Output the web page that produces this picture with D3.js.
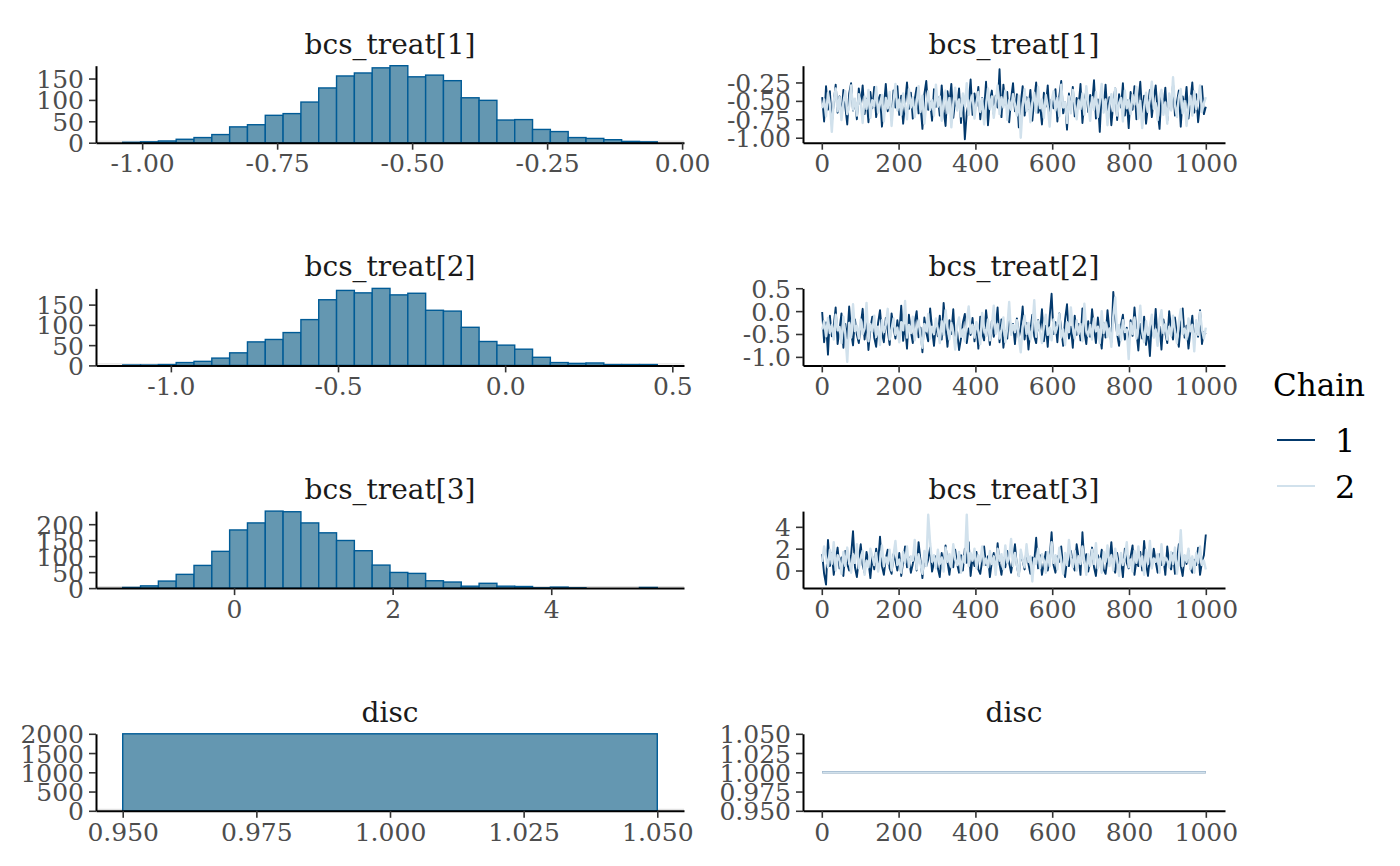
<!DOCTYPE html>
<html><head><meta charset="utf-8">
<script src="https://cdn.jsdelivr.net/npm/d3@7"></script>
<style>
body{margin:0;background:#fff}
svg{display:block}
text{font-family:"DejaVu Serif",serif}
</style>
</head><body>
<svg id="c" width="1400" height="866"></svg>
<script>
// ---------------- data ----------------
const params = ["bcs_treat[1]", "bcs_treat[2]", "bcs_treat[3]", "disc"];
const chains = ["1", "2"];

// histograms: bin start, bin width, counts
const hist1Start = -1.036, hist1Width = 0.033;
const hist1Counts = [1,2,4,8,12,19,37,42,64,68,95,128,156,163,175,180,154,158,145,105,99,53,54,31,26,12,10,7,3,2];
const hist2Start = -1.144, hist2Width = 0.0533;
const hist2Counts = [1,1,2,7,10,18,31,58,64,81,113,162,185,179,190,174,178,136,134,94,59,50,40,20,7,5,6,2,2,2];
const hist3Start = -1.404, hist3Width = 0.2247;
const hist3Counts = [2,7,22,43,71,115,182,204,241,239,204,173,149,117,72,49,46,23,19,6,15,6,5,1,3,1,0,0,0,2];
const hist4Start = 0.95, hist4Width = 0.1;
const hist4Counts = [2000];

// tick labels
const hist1XTicks = [-1.00, -0.75, -0.50, -0.25, 0.00];
const hist2XTicks = [-1.0, -0.5, 0.0, 0.5];
const hist3XTicks = [0, 2, 4];
const hist4XTicks = [0.950, 0.975, 1.000, 1.025, 1.050];
const hist1YTicks = [0, 50, 100, 150];
const hist2YTicks = [0, 50, 100, 150];
const hist3YTicks = [0, 50, 100, 150, 200];
const hist4YTicks = [0, 500, 1000, 1500, 2000];
const traceXTicks = [0, 200, 400, 600, 800, 1000];
const trace1YTicks = [-1.00, -0.75, -0.50, -0.25];
const trace2YTicks = [-1.0, -0.5, 0.0, 0.5];
const trace3YTicks = [0, 2, 4];
const trace4YTicks = [0.950, 0.975, 1.000, 1.025, 1.050];

// trace draws (thinned: 200 draws per chain over 1000 iterations)
const trace1Chain1 = [
-0.45,-0.78,-0.30,-0.62,-0.37,-0.80,-0.52,-0.28,-0.66,-0.44,-0.71,-0.35,-0.58,-0.82,-0.40,-0.26,-0.63,-0.49,-0.75,-0.33,
-0.55,-0.29,-0.68,-0.47,-0.79,-0.38,-0.60,-0.31,-0.72,-0.50,-0.42,-0.85,-0.57,-0.27,-0.64,-0.46,-0.76,-0.36,-0.59,-0.30,
-0.69,-0.43,-0.81,-0.53,-0.25,-0.61,-0.39,-0.74,-0.48,-0.32,-0.67,-0.56,-0.88,-0.41,-0.23,-0.62,-0.51,-0.77,-0.34,-0.58,
-0.45,-0.70,-0.29,-0.63,-0.84,-0.37,-0.54,-0.27,-0.73,-0.49,-0.60,-0.33,-0.80,-0.44,-1.02,-0.66,-0.52,-0.21,-0.69,-0.40,
-0.57,-0.31,-0.75,-0.46,-0.62,-0.24,-0.83,-0.50,-0.36,-0.68,-0.43,-0.59,-0.07,-0.72,-0.28,-0.55,-0.38,-0.79,-0.47,-0.26,
-0.64,-0.41,-0.86,-0.53,-0.30,-0.70,-0.45,-0.61,-0.35,-0.77,-0.49,-0.25,-0.66,-0.56,-0.82,-0.39,-0.58,-0.29,-0.73,-0.48,
-0.60,-0.34,-0.78,-0.44,-0.23,-0.67,-0.52,-0.89,-0.40,-0.63,-0.31,-0.71,-0.46,-0.57,-0.27,-0.80,-0.50,-0.37,-0.65,-0.42,
-0.55,-0.22,-0.74,-0.48,-0.92,-0.36,-0.61,-0.28,-0.69,-0.45,-0.83,-0.53,-0.33,-0.76,-0.41,-0.59,-0.26,-0.70,-0.49,-0.87,
-0.38,-0.62,-0.30,-0.75,-0.51,-0.24,-0.67,-0.43,-0.81,-0.56,-0.35,-0.72,-0.47,-0.29,-0.64,-0.88,-0.40,-0.58,-0.32,-0.77,
-0.46,-0.62,-0.27,-0.70,-0.52,-0.36,-0.85,-0.44,-0.60,-0.31,-0.74,-0.50,-0.25,-0.66,-0.41,-0.79,-0.55,-0.30,-0.68,-0.58];
const trace1Chain2 = [
-0.60,-0.48,-0.71,-0.39,-0.55,-0.92,-0.50,-0.33,-0.64,-0.45,-0.76,-0.52,-0.37,-0.68,-0.58,-0.29,-0.62,-0.47,-0.70,-0.41,
-0.53,-0.80,-0.44,-0.61,-0.35,-0.73,-0.49,-0.57,-0.31,-0.66,-0.54,-0.42,-0.78,-0.46,-0.60,-0.38,-0.84,-0.51,-0.27,-0.63,
-0.48,-0.69,-0.40,-0.56,-0.75,-0.34,-0.59,-0.45,-0.72,-0.52,-0.30,-0.65,-0.43,-0.81,-0.55,-0.37,-0.62,-0.49,-0.70,-0.28,
-0.58,-0.44,-0.77,-0.51,-0.36,-0.67,-0.46,-0.86,-0.54,-0.32,-0.63,-0.48,-0.71,-0.40,-0.57,-0.26,-0.69,-0.50,-0.42,-0.74,
-0.53,-0.38,-0.65,-0.47,-0.82,-0.56,-0.33,-0.61,-0.44,-0.73,-0.51,-0.29,-0.68,-0.45,-0.59,-0.36,-0.76,-0.49,-0.62,-0.41,
-0.55,-0.70,-0.43,-1.00,-0.58,-0.34,-0.64,-0.47,-0.79,-0.52,-0.39,-0.66,-0.31,-0.60,-0.48,-0.73,-0.42,-0.57,-0.85,-0.50,
-0.37,-0.63,-0.46,-0.71,-0.28,-0.59,-0.52,-0.80,-0.44,-0.67,-0.35,-0.56,-0.75,-0.49,-0.61,-0.40,-0.69,-0.30,-0.54,-0.77,
-0.45,-0.62,-0.38,-0.72,-0.51,-0.27,-0.66,-0.48,-0.83,-0.57,-0.41,-0.64,-0.33,-0.70,-0.53,-0.46,-0.78,-0.36,-0.60,-0.49,
-0.68,-0.42,-0.55,-0.31,-0.74,-0.50,-0.87,-0.59,-0.39,-0.65,-0.47,-0.24,-0.61,-0.53,-0.76,-0.44,-0.35,-0.69,-0.52,-0.81,
-0.40,-0.63,-0.18,-0.56,-0.72,-0.45,-0.34,-0.67,-0.50,-0.84,-0.58,-0.43,-0.70,-0.37,-0.61,-0.48,-0.29,-0.65,-0.53,-0.45];
const trace2Chain1 = [
-0.02,-0.68,-0.25,-0.95,-0.10,-0.55,-0.32,0.08,-0.72,-0.40,-0.05,-0.80,-0.28,-0.60,0.10,-0.45,-0.75,-0.18,-0.52,-0.70,
-0.30,0.05,-0.62,-0.22,-0.85,-0.38,-0.12,-0.58,-0.78,-0.26,0.02,-0.48,-0.68,-0.15,-0.42,-0.74,-0.05,-0.35,-0.60,-0.20,
-0.50,0.12,-0.65,-0.30,-0.82,-0.08,-0.44,-0.70,-0.24,0.00,-0.57,-0.36,-0.90,-0.14,-0.47,-0.66,0.06,-0.40,-0.76,-0.28,
-0.55,-0.10,-0.62,0.18,-0.34,-0.78,-0.20,-0.50,0.04,-0.72,-0.45,-0.85,-0.60,-0.25,-0.06,-0.70,-0.38,-0.52,-0.15,-0.66,
-0.30,-0.82,-0.12,-0.48,-0.64,0.02,-0.40,-0.74,-0.22,-0.56,-0.35,0.08,-0.68,-0.18,-0.80,-0.44,-0.60,-0.02,-0.50,-0.28,
-0.72,-0.16,-0.58,-0.36,0.10,-0.62,-0.26,-0.84,-0.42,-0.08,-0.55,-0.70,-0.20,-0.46,0.04,-0.66,-0.32,-0.78,-0.12,0.38,
-0.50,-0.24,-0.68,-0.05,-0.40,-0.76,-0.18,0.15,-0.60,-0.34,-0.80,-0.10,-0.52,-0.28,-0.64,0.06,-0.44,-0.72,-0.22,-0.56,
0.04,-0.38,-0.70,-0.14,-0.48,-0.82,-0.26,-0.58,0.02,-0.42,-0.68,0.42,-0.16,-0.50,-0.76,-0.30,-0.08,-0.62,-0.36,-0.72,
-0.20,-0.54,0.08,-0.44,-0.86,-0.28,-0.60,-0.12,-0.74,-0.40,-0.98,-0.22,-0.56,0.05,-0.66,-0.34,-0.84,-0.18,-0.48,-0.70,
0.00,-0.38,-0.62,-0.14,-0.52,-0.78,-0.26,0.06,-0.58,-0.32,-0.82,-0.44,-0.10,-0.68,-0.30,-0.56,0.02,-0.72,-0.46,-0.50];
const trace2Chain2 = [
-0.40,-0.22,-0.55,-0.15,-0.48,-0.30,-0.62,-0.08,-0.42,-0.35,-0.70,-0.12,-0.50,-1.11,-0.26,-0.58,0.15,-0.44,-0.32,-0.60,
-0.18,-0.50,-0.38,0.18,-0.66,-0.28,-0.45,-0.10,-0.56,-0.34,-0.74,-0.20,-0.46,-0.30,0.05,-0.62,-0.40,-0.16,-0.52,-0.36,
-0.68,-0.24,-0.42,0.22,-0.58,-0.30,-0.48,-0.12,-0.64,-0.38,-0.20,-0.54,-0.80,-0.28,-0.44,-0.06,-0.60,-0.34,-0.50,-0.16,
-0.40,-0.70,-0.22,-0.52,0.02,-0.36,-0.62,-0.26,-0.46,-0.84,-0.32,-0.14,-0.56,-0.40,-0.66,-0.20,0.10,-0.48,-0.30,-0.58,
-0.24,-0.44,-0.72,-0.04,-0.38,-0.54,-0.18,-0.64,-0.32,0.12,-0.50,-0.28,-0.60,-0.42,-0.14,-0.68,-0.36,0.20,-0.52,-0.30,
-0.46,-0.20,-0.58,-0.90,-0.34,-0.10,-0.50,-0.26,-0.62,-0.40,0.24,-0.56,-0.22,-0.44,-0.70,-0.30,-0.08,-0.52,-0.36,-0.64,
-0.18,-0.48,-0.32,-0.06,-0.58,-0.40,-0.74,-0.24,-0.46,0.08,-0.36,-0.60,-0.20,-0.50,-0.28,-0.66,0.16,-0.42,-0.54,-0.30,
-0.62,-0.16,-0.44,-0.34,-0.70,0.00,-0.48,-0.24,-0.56,-0.38,-0.78,-0.12,0.30,-0.52,-0.30,-0.64,-0.20,-0.46,-0.40,-1.05,
-0.26,-0.50,-0.14,-0.60,-0.36,0.12,-0.44,-0.68,-0.22,-0.52,-0.32,-0.08,-0.58,-0.40,-0.76,-0.18,0.02,-0.48,-0.28,-0.62,
-0.34,-0.54,-0.10,-0.46,-0.70,-0.24,0.04,-0.50,-0.38,-0.62,-0.16,-0.44,-0.30,-0.88,-0.20,-0.52,-0.02,-0.40,-0.60,-0.36];
const trace3Chain1 = [
1.5,-0.3,-1.29,2.8,0.4,1.6,-0.4,0.9,2.1,0.2,1.2,-0.5,1.8,0.6,0.0,1.4,3.6,0.3,-0.6,1.0,
2.4,0.5,-0.2,1.7,0.8,-0.7,1.3,0.1,2.0,0.7,3.1,0.4,-0.4,1.1,1.9,0.2,-0.3,1.5,0.9,0.0,
1.6,-0.5,0.8,2.2,0.3,1.2,-0.2,0.6,1.8,0.0,2.6,0.9,-0.7,1.4,0.4,1.0,2.1,-0.1,0.7,1.3,
0.2,-0.6,1.6,0.5,2.3,0.8,-0.4,1.1,0.3,1.9,0.6,-0.2,1.4,0.0,2.0,0.7,2.6,-0.5,1.2,0.4,
1.7,0.1,-0.3,0.9,2.2,0.5,1.3,-0.6,0.8,1.6,0.2,2.5,0.6,-0.4,1.1,0.3,1.8,0.7,-0.2,1.0,
2.4,0.4,-0.5,1.5,0.9,0.1,2.0,0.6,-0.3,1.2,0.8,3.0,0.2,1.4,-0.4,0.7,1.7,0.0,1.1,3.5,
0.5,-0.2,1.3,0.8,2.2,0.3,-0.6,1.0,0.4,1.8,0.6,0.0,2.4,1.2,-0.4,3.5,0.7,1.5,-0.1,0.9,
2.1,0.3,-0.5,1.4,0.6,1.9,0.1,-0.3,1.1,0.8,2.6,0.4,-0.2,1.6,0.5,1.0,-0.6,2.0,0.7,0.2,
1.3,2.3,-0.4,0.9,0.4,1.7,0.0,2.7,0.6,-0.5,1.2,0.3,2.0,0.8,-0.2,1.5,0.5,1.1,-0.4,2.2,
0.7,0.1,1.6,-0.3,0.9,2.4,0.4,-0.5,1.3,0.6,1.8,0.2,-0.2,1.0,0.5,2.1,-0.4,0.8,1.4,3.3];
const trace3Chain2 = [
0.8,2.2,1.2,0.3,1.9,0.6,2.6,0.0,1.4,0.9,-0.3,1.7,0.4,2.1,1.0,-0.2,1.5,0.7,2.4,0.2,
1.1,1.8,-0.4,0.9,0.3,2.0,1.3,0.5,1.6,-0.1,0.8,2.3,0.4,1.2,0.6,1.9,0.0,1.4,2.7,0.5,
1.0,-0.2,1.7,0.7,2.2,0.3,1.3,0.9,2.8,0.1,1.5,0.6,-0.3,1.8,0.4,5.1,2.5,0.8,1.4,0.2,
1.9,0.6,1.2,-0.1,2.1,0.8,1.5,0.3,2.4,1.0,0.5,1.7,-0.2,1.3,0.7,5.12,0.4,1.6,0.9,2.0,
0.2,1.4,0.8,2.2,0.5,1.1,0.3,1.8,0.6,1.3,-0.4,2.0,0.9,1.5,0.1,2.3,0.7,1.2,2.9,0.4,
1.6,0.5,-0.5,1.9,1.0,0.3,2.4,0.8,1.3,-1.0,1.1,0.6,2.0,0.2,1.5,0.9,-0.2,1.7,0.4,2.6,
0.7,1.4,0.1,2.1,0.9,-0.3,1.6,0.5,2.8,1.2,0.3,1.8,0.0,1.3,0.6,2.2,0.8,-0.4,1.5,0.4,
1.9,0.6,2.5,0.2,1.1,-0.2,1.7,0.8,2.3,0.4,1.4,0.0,2.0,0.9,-0.5,1.6,0.5,1.2,2.6,0.3,
1.0,-0.1,1.8,0.7,2.2,0.4,1.3,-0.4,1.9,0.6,2.7,0.2,1.1,0.8,1.5,-0.2,2.4,0.5,1.2,0.9,
0.3,1.7,0.6,2.1,-0.3,1.0,3.7,0.4,1.4,0.8,2.0,0.1,1.3,-0.2,1.6,0.7,2.2,0.5,0.9,0.1];
const trace4Iter = [1, 1000];
const trace4Chain1 = [1, 1];
const trace4Chain2 = [1, 1];

// ---------------- drawing ----------------
const svg = d3.select("#c");
const chainColors = ["#03396c", "#d1e1ec"];
const chainWidths = [1.9, 2.4];
const histFill = "#6497b1", histStroke = "#005b96";
const leftRange = [96, 684], rightRange = [803, 1225];
const rowTops = [65.7, 288.4, 511.1, 733.8];
const panelH = 77;
const tickFont = 25, titleFont = 28;

function fmt(spec) { const f = d3.format(spec); return v => f(v).replace("\u2212", "-"); }
function expand(lo, hi) {
  if (hi === lo) { const d = Math.abs(lo) * 0.05 || 0.5; return [lo - d, hi + d]; }
  const e = (hi - lo) * 0.05; return [lo - e, hi + e];
}
function styleAxis(g) {
  g.select(".domain").attr("stroke", "#000").attr("stroke-width", 2);
  g.selectAll(".tick line").attr("stroke", "#333").attr("stroke-width", 1.6);
  g.selectAll(".tick text").attr("fill", "#4d4d4d").style("font-size", tickFont + "px")
    .style("font-family", "'DejaVu Serif', serif");
}
function axes(g, x, y, xt, xf, yt, yf, top, bot, xr) {
  const gx = g.append("g").attr("transform", `translate(0,${bot})`)
    .call(d3.axisBottom(x).tickValues(xt).tickFormat(xf).tickSize(7).tickSizeOuter(0).tickPadding(5));
  styleAxis(gx);
  const gy = g.append("g").attr("transform", `translate(${xr[0]},0)`)
    .call(d3.axisLeft(y).tickValues(yt).tickFormat(yf).tickSize(7).tickSizeOuter(0).tickPadding(5));
  styleAxis(gy);
  gy.selectAll(".tick text").attr("dy", "0.36em");
}
function title(g, txt, xr, top) {
  g.append("text").attr("x", (xr[0] + xr[1]) / 2).attr("y", top - 12)
    .attr("text-anchor", "middle").attr("fill", "#1a1a1a")
    .style("font-size", titleFont + "px").text(txt);
}

const hists = [
  {start: hist1Start, width: hist1Width, counts: hist1Counts, xt: hist1XTicks, xf: fmt(".2f"), yt: hist1YTicks},
  {start: hist2Start, width: hist2Width, counts: hist2Counts, xt: hist2XTicks, xf: fmt(".1f"), yt: hist2YTicks},
  {start: hist3Start, width: hist3Width, counts: hist3Counts, xt: hist3XTicks, xf: fmt("d"), yt: hist3YTicks},
  {start: hist4Start, width: hist4Width, counts: hist4Counts, xt: hist4XTicks, xf: fmt(".3f"), yt: hist4YTicks}
];
const traces = [
  {c1: trace1Chain1, c2: trace1Chain2, yt: trace1YTicks, yf: fmt(".2f")},
  {c1: trace2Chain1, c2: trace2Chain2, yt: trace2YTicks, yf: fmt(".1f")},
  {c1: trace3Chain1, c2: trace3Chain2, yt: trace3YTicks, yf: fmt("d")},
  {c1: trace4Chain1, c2: trace4Chain2, yt: trace4YTicks, yf: fmt(".3f"), iter: trace4Iter}
];

params.forEach((p, r) => {
  const top = rowTops[r], bot = top + panelH;
  // histogram
  const h = hists[r];
  const end = h.start + h.width * h.counts.length;
  const x = d3.scaleLinear().domain(expand(h.start, end)).range(leftRange);
  const y = d3.scaleLinear().domain([0, d3.max(h.counts)]).range([bot, top]);
  const g = svg.append("g");
  g.append("line").attr("x1", leftRange[0]).attr("x2", leftRange[1]).attr("y1", bot - 1.5).attr("y2", bot - 1.5)
    .attr("stroke", "#dcdcdc").attr("stroke-width", 1);
  g.selectAll("rect").data(h.counts).join("rect")
    .attr("x", (d, i) => x(h.start + i * h.width))
    .attr("width", (d, i) => x(h.start + (i + 1) * h.width) - x(h.start + i * h.width))
    .attr("y", d => y(d)).attr("height", d => bot - y(d))
    .attr("fill", histFill).attr("stroke", histStroke).attr("stroke-width", 1.4);
  axes(g, x, y, h.xt, h.xf, h.yt, d => d, top, bot, leftRange);
  title(g, p, leftRange, top);

  // trace
  const t = traces[r];
  const n = t.c1.length;
  const iters = t.iter || d3.range(n).map(i => 1 + i * 999 / (n - 1));
  const all = t.c1.concat(t.c2);
  const ty = d3.scaleLinear().domain(expand(d3.min(all), d3.max(all))).range([bot, top]);
  const tx = d3.scaleLinear().domain(expand(1, 1000)).range(rightRange);
  const g2 = svg.append("g");
  const line = d3.line().x((d, i) => tx(iters[i])).y(d => ty(d));
  [t.c1, t.c2].forEach((vals, ci) => {
    g2.append("path").datum(vals).attr("d", line).attr("fill", "none")
      .attr("stroke", chainColors[ci]).attr("stroke-width", t.iter ? 2 : chainWidths[ci])
      .attr("stroke-linejoin", "round");
  });
  axes(g2, tx, ty, traceXTicks, d => d, t.yt, t.yf, top, bot, rightRange);
  title(g2, p, rightRange, top);
});

// legend
const lg = svg.append("g");
lg.append("text").attr("x", 1273).attr("y", 396).attr("fill", "#000").style("font-size", "31px").text("Chain");
chains.forEach((c, i) => {
  const yy = 440 + i * 46;
  lg.append("line").attr("x1", 1277).attr("x2", 1315).attr("y1", yy).attr("y2", yy)
    .attr("stroke", chainColors[i]).attr("stroke-width", 2);
  lg.append("text").attr("x", 1335).attr("y", yy).attr("dy", "0.36em").attr("fill", "#000")
    .style("font-size", "32px").text(c);
});
</script>
</body></html>
